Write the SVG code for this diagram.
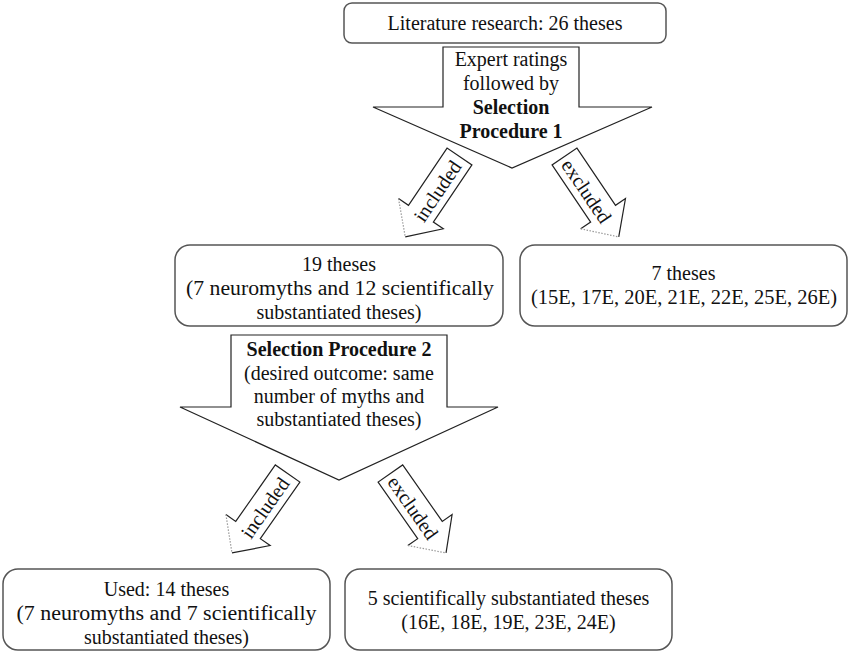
<svg xmlns="http://www.w3.org/2000/svg" width="851" height="653" viewBox="0 0 851 653">
<style>
text{font-family:"Liberation Serif","Times New Roman","DejaVu Serif",serif;font-size:20px;fill:#111;text-anchor:middle}
.b{font-weight:bold}
.box{fill:#fff;stroke:#555;stroke-width:1.5}
.big{fill:#fff;stroke:#222;stroke-width:1.2}
.sfill{fill:#fff;stroke:none}
.sline{fill:none;stroke:#222;stroke-width:1.2}
.dot{fill:none;stroke:#999;stroke-width:1.2;stroke-dasharray:1.5 1.5}
</style>
<defs>
<g id="sa">
<polygon class="sfill" points="0,97 27,69 15,69 15,0 -15,0 -15,69 -27,69"/>
<path class="sline" d="M-27,69 L-15,69 L-15,0 L15,0 L15,69 L27,69 L0,97"/>
<path class="dot" d="M-27,69 L0,97"/>
</g>
</defs>
<g id="connectors">
<g id="arrow-sp1"><polygon class="big" points="443,47 579,47 579,107 652,107 512,168 373,107 443,107"/>
<text x="511" y="66">Expert ratings</text>
<text x="511" y="90">followed by</text>
<text x="511" y="114" class="b">Selection</text>
<text x="511" y="138" class="b">Procedure 1</text></g>
<g id="arrow-inc1" transform="translate(459.5,156.5) rotate(34)"><use href="#sa"/><text transform="translate(1,41) rotate(-90)" dominant-baseline="central">included</text></g>
<g id="arrow-exc1" transform="translate(564.5,156.5) rotate(-34)"><use href="#sa"/><text transform="translate(-1,41) rotate(90)" dominant-baseline="central">excluded</text></g>
<g id="arrow-sp2"><polygon class="big" points="231,335 447,335 447,407 498,407 339,480 180,407 231,407"/>
<text x="339" y="356" class="b">Selection Procedure 2</text>
<text x="339" y="380">(desired outcome: same</text>
<text x="339" y="403">number of myths and</text>
<text x="339" y="426">substantiated theses)</text></g>
<g id="arrow-inc2" transform="translate(287.6,473.5) rotate(35)"><use href="#sa"/><text transform="translate(1,41) rotate(-90)" dominant-baseline="central">included</text></g>
<g id="arrow-exc2" transform="translate(390.4,473.5) rotate(-35)"><use href="#sa"/><text transform="translate(-1,41) rotate(90)" dominant-baseline="central">excluded</text></g>
</g>
<g id="node-literature"><rect class="box" x="344" y="3" width="322" height="40" rx="8"/>
<text x="505" y="30">Literature research: 26 theses</text></g>
<g id="node-19"><rect class="box" x="175" y="245" width="328" height="81" rx="15"/>
<text x="339" y="271">19 theses</text>
<text x="340" y="295" textLength="308" lengthAdjust="spacingAndGlyphs">(7 neuromyths and 12 scientifically</text>
<text x="339" y="319">substantiated theses)</text></g>
<g id="node-7"><rect class="box" x="520" y="245" width="327" height="81" rx="15"/>
<text x="683.5" y="280">7 theses</text>
<text x="684" y="304" textLength="306" lengthAdjust="spacingAndGlyphs">(15E, 17E, 20E, 21E, 22E, 25E, 26E)</text></g>
<g id="node-used"><rect class="box" x="3" y="569" width="327" height="81" rx="15"/>
<text x="166.5" y="596">Used: 14 theses</text>
<text x="166.5" y="620" textLength="300" lengthAdjust="spacingAndGlyphs">(7 neuromyths and 7 scientifically</text>
<text x="166.5" y="644">substantiated theses)</text></g>
<g id="node-5"><rect class="box" x="345" y="569" width="327" height="81" rx="15"/>
<text x="508.5" y="605">5 scientifically substantiated theses</text>
<text x="508.5" y="629">(16E, 18E, 19E, 23E, 24E)</text></g>
</svg>
